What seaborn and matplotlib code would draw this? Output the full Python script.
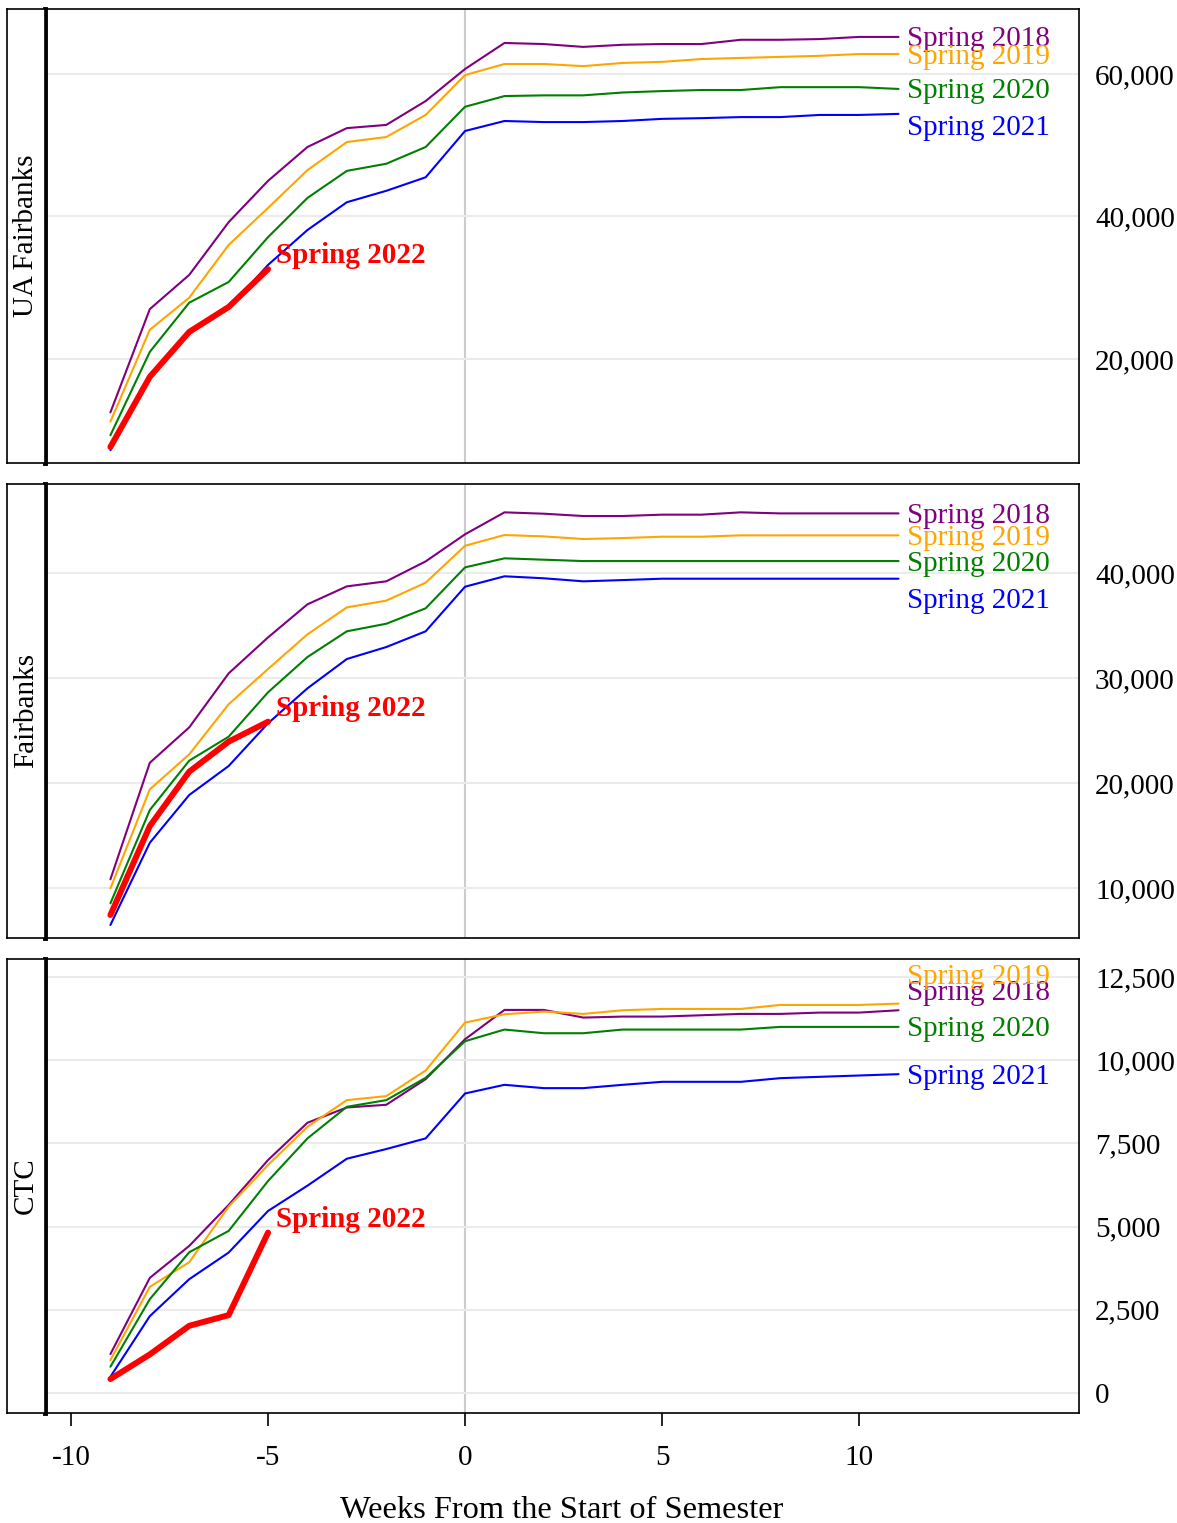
import pandas as pd
import numpy as np
import matplotlib
matplotlib.use("Agg")
import matplotlib.pyplot as plt
import seaborn as sns
from matplotlib.ticker import FuncFormatter

# weekly cumulative enrollment
weeks = list(range(-9, 12))
weeks_2022 = list(range(-9, -4))
terms = ["Spring 2018", "Spring 2019", "Spring 2020", "Spring 2021", "Spring 2022"]
campuses = ["UA Fairbanks", "Fairbanks", "CTC"]

uaf_2018 = [12500, 27000, 31800, 39200, 45000, 49750, 52400, 52850, 56200, 60700, 64350,
            64200, 63800, 64100, 64200, 64200, 64800, 64800, 64900, 65200, 65200]
uaf_2019 = [11200, 24100, 28600, 36000, 41200, 46500, 50450, 51150, 54250, 59850, 61400,
            61400, 61100, 61550, 61700, 62100, 62250, 62400, 62550, 62800, 62800]
uaf_2020 = [9300, 21000, 27900, 30800, 37100, 42600, 46400, 47400, 49750, 55400, 56900,
            57000, 57000, 57400, 57600, 57750, 57750, 58150, 58150, 58150, 57900]
uaf_2021 = [7200, 17300, 23600, 27100, 33200, 38100, 42000, 43600, 45500, 52000, 53400,
            53250, 53250, 53400, 53700, 53800, 53950, 53950, 54250, 54250, 54400]
uaf_2022 = [7650, 17500, 23800, 27300, 32600]

fbk_2018 = [10830, 21930, 25300, 30440, 33870, 37020, 38730, 39210, 41110, 43690, 45780,
            45650, 45430, 45430, 45560, 45560, 45780, 45680, 45680, 45680, 45680]
fbk_2019 = [9970, 19400, 22730, 27500, 30860, 34160, 36730, 37370, 39080, 42600, 43620,
            43490, 43240, 43330, 43460, 43460, 43590, 43590, 43590, 43590, 43590]
fbk_2020 = [8540, 17430, 22130, 24410, 28640, 32000, 34450, 35170, 36640, 40540, 41400,
            41270, 41140, 41140, 41140, 41140, 41140, 41140, 41140, 41140, 41140]
fbk_2021 = [6480, 14310, 18860, 21620, 25690, 29020, 31810, 32950, 34450, 38700, 39690,
            39500, 39210, 39330, 39460, 39460, 39460, 39460, 39460, 39460, 39460]
fbk_2022 = [7430, 15900, 21080, 23940, 25840]

ctc_2018 = [1170, 3460, 4420, 5650, 7000, 8120, 8580, 8660, 9430, 10630, 11510,
            11510, 11280, 11310, 11310, 11350, 11390, 11390, 11430, 11430, 11500]
ctc_2019 = [990, 3190, 3930, 5600, 6850, 8000, 8800, 8920, 9690, 11130, 11380,
            11460, 11390, 11500, 11540, 11540, 11540, 11660, 11660, 11660, 11700]
ctc_2020 = [790, 2820, 4230, 4870, 6370, 7650, 8600, 8800, 9470, 10570, 10920,
            10810, 10810, 10920, 10920, 10920, 10920, 11000, 11000, 11000, 11000]
ctc_2021 = [490, 2310, 3420, 4220, 5470, 6230, 7040, 7330, 7650, 9000, 9260,
            9160, 9160, 9260, 9350, 9350, 9350, 9460, 9500, 9540, 9580]
ctc_2022 = [420, 1160, 2020, 2340, 4820]

uaf_ticks = [20000, 40000, 60000]
fbk_ticks = [10000, 20000, 30000, 40000]
ctc_ticks = [0, 2500, 5000, 7500, 10000, 12500]
week_ticks = [-10, -5, 0, 5, 10]

colors = {"Spring 2018": "purple", "Spring 2019": "orange", "Spring 2020": "green",
          "Spring 2021": "blue", "Spring 2022": "red"}
widths = {"Spring 2018": 1.5, "Spring 2019": 1.5, "Spring 2020": 1.5,
          "Spring 2021": 1.5, "Spring 2022": 4.3}


def build_frame():
    series = {
        "UA Fairbanks": [uaf_2018, uaf_2019, uaf_2020, uaf_2021, uaf_2022],
        "Fairbanks": [fbk_2018, fbk_2019, fbk_2020, fbk_2021, fbk_2022],
        "CTC": [ctc_2018, ctc_2019, ctc_2020, ctc_2021, ctc_2022],
    }
    rows = []
    for campus, values in series.items():
        for term, vals in zip(terms, values):
            wk = weeks_2022 if term == "Spring 2022" else weeks
            for w, v in zip(wk, vals):
                rows.append({"campus": campus, "term": term, "week": w, "enrolled": v})
    return pd.DataFrame(rows)


df = build_frame()

sns.set_style("white")
plt.rcParams["font.family"] = ["Liberation Serif", "DejaVu Serif"]
plt.rcParams["font.size"] = 21
plt.rcParams["axes.unicode_minus"] = False
plt.rcParams["text.color"] = "black"
plt.rcParams["axes.labelcolor"] = "black"
plt.rcParams["xtick.color"] = "black"
plt.rcParams["ytick.color"] = "black"

W, H = 1177, 1523
fig = plt.figure(figsize=(W / 100, H / 100), dpi=100)

# panel rows in pixels (top, bottom) and y limits
panel_px = [(9, 463), (484, 938), (959, 1413)]
ylims = {"UA Fairbanks": (5400, 69120), "Fairbanks": (5240, 48480), "CTC": (-600, 13040)}
yticks = {"UA Fairbanks": uaf_ticks, "Fairbanks": fbk_ticks, "CTC": ctc_ticks}
# vertical nudges (pixels, up is positive) for the end labels that were moved apart
nudge = {"UA Fairbanks": {"Spring 2021": -12},
         "Fairbanks": {"Spring 2021": -20},
         "CTC": {"Spring 2019": 29, "Spring 2018": 20}}

left, right, strip_left = 45, 1079, 7

for i, campus in enumerate(campuses):
    top, bottom = panel_px[i]
    ax = fig.add_axes([left / W, 1 - bottom / H, (right - left) / W, (bottom - top) / H])
    sub = df[df["campus"] == campus]

    ax.axvline(0, color="#cccccc", lw=1.5, zorder=0)
    sns.lineplot(data=sub, x="week", y="enrolled", hue="term", size="term",
                 hue_order=terms, size_order=terms, palette=colors, sizes=widths,
                 estimator=None, errorbar=None, legend=False, ax=ax)

    ax.set_xlim(-10.66, 15.58)
    ax.set_ylim(*ylims[campus])
    ax.set_yticks(yticks[campus])
    ax.yaxis.set_major_formatter(FuncFormatter(lambda v, p: f"{v:,.0f}"))
    ax.yaxis.tick_right()
    ax.yaxis.grid(True, color="#ebebeb", lw=1.5)
    ax.set_axisbelow(True)
    ax.tick_params(axis="y", length=0, pad=11.5)
    ax.set_ylabel("")
    ax.set_xticks(week_ticks)

    for side in ["top", "right", "bottom"]:
        ax.spines[side].set_color("black")
        ax.spines[side].set_linewidth(1.2)
    ax.spines["left"].set_color("black")
    ax.spines["left"].set_linewidth(3.5)

    # end-of-series labels
    for term in terms[:4]:
        last = sub[(sub["term"] == term) & (sub["week"] == weeks[-1])]["enrolled"].iloc[0]
        dy = nudge[campus].get(term, 0)
        ax.annotate(term, (weeks[-1], last), xytext=(8, -9.5 + dy),
                    textcoords="offset pixels", color=colors[term],
                    va="baseline", ha="left", annotation_clip=False)
    last22 = sub[(sub["term"] == "Spring 2022") & (sub["week"] == weeks_2022[-1])]["enrolled"].iloc[0]
    ax.annotate("Spring 2022", (weeks_2022[-1], last22), xytext=(8, 6),
                textcoords="offset pixels", color="red", fontweight="bold",
                va="baseline", ha="left")

    if i < 2:
        ax.tick_params(axis="x", bottom=False, length=0, labelbottom=False)
        ax.set_xlabel("")
    else:
        ax.tick_params(axis="x", bottom=True, length=9, width=1.2, color="black", pad=14)
        ax.set_xlabel("Weeks From the Start of Semester", fontsize=23.3, labelpad=18)

    # facet strip on the left
    strip = fig.add_axes([strip_left / W, 1 - bottom / H, (left - strip_left) / W, (bottom - top) / H])
    strip.set_xticks([])
    strip.set_yticks([])
    for s in strip.spines.values():
        s.set_color("black")
        s.set_linewidth(1.2)
    strip.text(0.5, 0.5, campus, rotation=90, ha="center", va="center",
               color="black", transform=strip.transAxes)

fig.savefig("out.png", dpi=100)
